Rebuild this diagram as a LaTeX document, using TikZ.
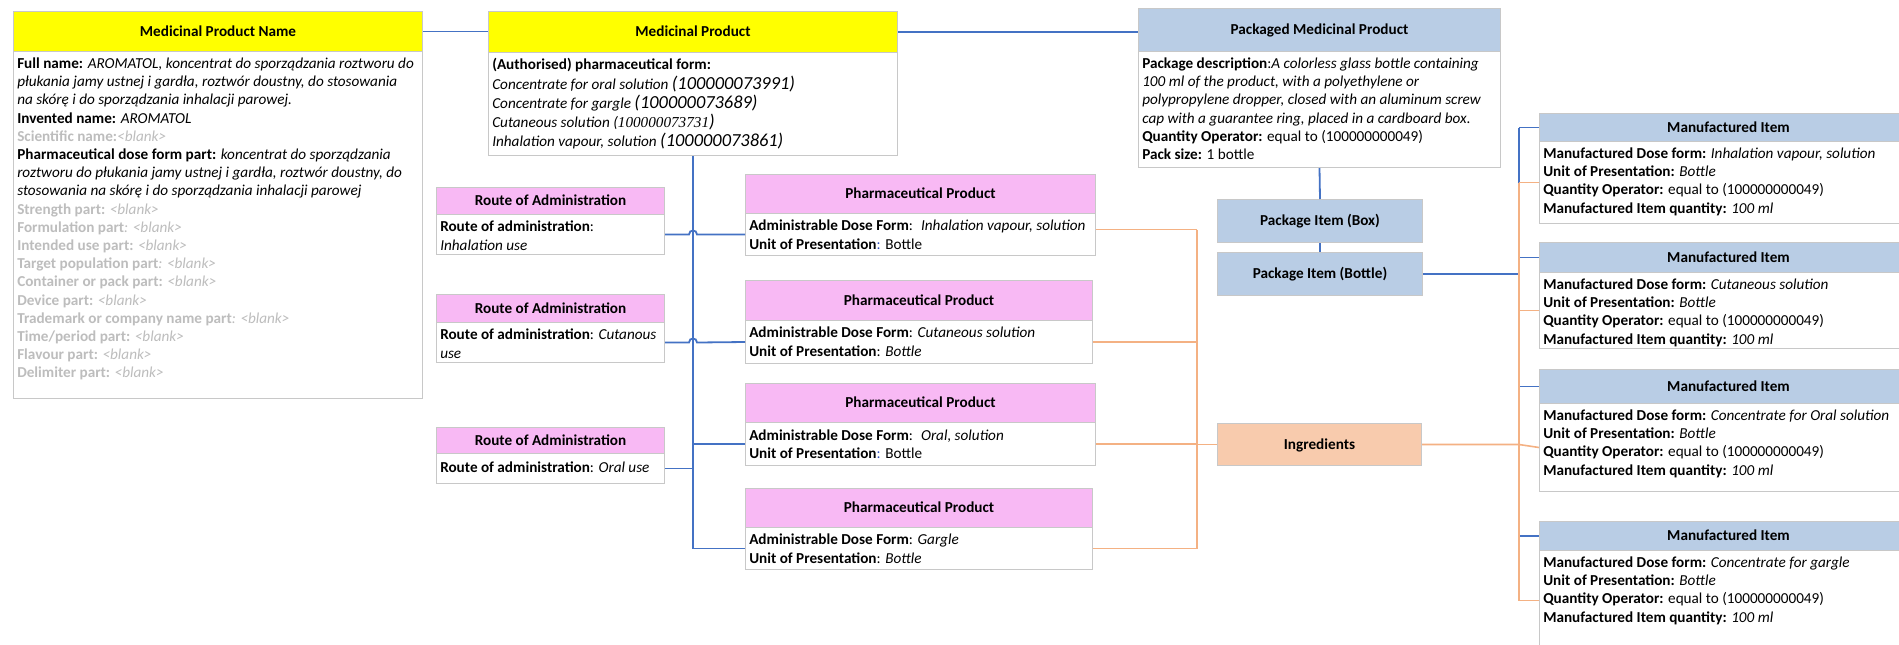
\documentclass[tikz,border=0pt]{standalone}
\usepackage{fontspec}
\setmainfont{Carlito}
\newfontfamily\serifnum{Liberation Serif}
\definecolor{hyellow}{HTML}{FFFF00}
\definecolor{hpink}{HTML}{F8B9F4}
\definecolor{hblue}{HTML}{B9CDE5}
\definecolor{horange}{HTML}{F8CBAD}
\definecolor{bordergray}{HTML}{C8C8C8}
\definecolor{graytext}{HTML}{BDBDBD}
\definecolor{lineblue}{HTML}{4472C4}
\definecolor{lineorange}{HTML}{F4B183}
\definecolor{colonblue}{HTML}{3050C0}
\tikzset{
  hdr/.style={draw=bordergray, line width=0.75pt, anchor=north west, inner sep=0pt,
    font=\fontsize{11.4}{13.65}\selectfont\bfseries, text height=7.3pt, text depth=0pt, align=center},
  yhdr/.style={hdr, fill=hyellow},
  phdr/.style={hdr, fill=hpink},
  bhdr/.style={hdr, fill=hblue},
  ohdr/.style={hdr, fill=horange},
  bodyrect/.style={draw=bordergray, line width=0.75pt, fill=white, anchor=north west, inner sep=0pt},
  bodytext/.style={anchor=north west, inner sep=0pt, align=left, font=\fontsize{11.4}{13.65}\selectfont},
  blueline/.style={draw=lineblue, line width=1.35pt},
  orangeline/.style={draw=lineorange, line width=1.2pt},
}
\newcommand\gr[1]{{\color{graytext}#1}}
\begin{document}
\begin{tikzpicture}[x=0.75pt,y=-0.75pt]
\useasboundingbox (0,0) rectangle (1899,644);

% ---------- Medicinal Product Name ----------
\node[yhdr, minimum width=306.75pt, minimum height=30pt] (mpnh) at (13,11) {Medicinal Product Name};
\node[bodyrect, minimum width=306.75pt, minimum height=260.25pt] (mpnb) at (13,51) {};
\node[bodytext] (mpnt) at ([xshift=3pt,yshift=-3.3pt]mpnb.north west) {\strut\textbf{Full name:} \textit{AROMATOL, koncentrat do sporządzania roztworu do}\\
\textit{płukania jamy ustnej i gardła, roztwór doustny, do stosowania}\\
\textit{na skórę i do sporządzania inhalacji parowej.}\\
\textbf{Invented name:} \textit{AROMATOL}\\
\gr{\textbf{Scientific name:}\textit{<blank>}}\\
\textbf{Pharmaceutical dose form part:} \textit{koncentrat do sporządzania}\\
\textit{roztworu do płukania jamy ustnej i gardła, roztwór doustny, do}\\
\textit{stosowania na skórę i do sporządzania inhalacji parowej}\\
\gr{\textbf{Strength part:} \textit{<blank>}}\\
\gr{\textbf{Formulation part}\textit{: <blank>}}\\
\gr{\textbf{Intended use part:} \textit{<blank>}}\\
\gr{\textbf{Target population part}\textit{: <blank>}}\\
\gr{\textbf{Container or pack part:} \textit{<blank>}}\\
\gr{\textbf{Device part:} \textit{<blank>}}\\
\gr{\textbf{Trademark or company name part}\textit{: <blank>}}\\
\gr{\textbf{Time/period part:} \textit{<blank>}}\\
\gr{\textbf{Flavour part:} \textit{<blank>}}\\
\gr{\textbf{Delimiter part:} \textit{<blank>}}};

% ---------- Medicinal Product ----------
\node[yhdr, minimum width=306.75pt, minimum height=30.75pt] (mph) at (488,11) {Medicinal Product};
\node[bodyrect, minimum width=306.75pt, minimum height=77.25pt] (mpb) at (488,52) {};
\node[bodytext, font=\fontsize{11.4}{14.25}\selectfont] (mpt) at ([xshift=3pt,yshift=-2.8pt]mpb.north west) {\strut\textbf{(Authorised) pharmaceutical form:}\\
\textit{Concentrate for oral solution {\fontsize{13.8}{14.25}\selectfont(100000073991)}}\\
\textit{Concentrate for gargle {\fontsize{13.8}{14.25}\selectfont(100000073689)}}\\
\textit{Cutaneous solution ({\serifnum 100000073731}{\fontsize{13.8}{14.25}\selectfont)}}\\
\textit{Inhalation vapour, solution {\fontsize{13.8}{14.25}\selectfont(100000073861)}}};

% ---------- Packaged Medicinal Product ----------
\node[bhdr, minimum width=271.5pt, minimum height=32.25pt] (pmph) at (1138,8) {Packaged Medicinal Product};
\node[bodyrect, minimum width=271.5pt, minimum height=87pt] (pmpb) at (1138,51) {};
\node[bodytext] (pmpt) at ([xshift=3pt,yshift=-3.3pt]pmpb.north west) {\strut\textbf{Package description}:\textit{A colorless glass bottle containing}\\
\textit{100 ml of the product, with a polyethylene or}\\
\textit{polypropylene dropper, closed with an aluminum screw}\\
\textit{cap with a guarantee ring, placed in a cardboard box.}\\
\textbf{Quantity Operator:} equal to (100000000049)\\
\textbf{Pack size:} 1 bottle};

% ---------- Package items / Ingredients ----------
\node[bhdr, minimum width=153.75pt, minimum height=32.25pt] (pibox) at (1217,199) {Package Item (Box)};
\node[bhdr, minimum width=153.75pt, minimum height=32.25pt] (pibot) at (1217,252) {Package Item (Bottle)};
\node[ohdr, minimum width=153pt, minimum height=31.5pt] (ing) at (1217,423) {Ingredients};

% ---------- Routes of Administration ----------
\node[phdr, minimum width=171pt, minimum height=20.25pt] (r1h) at (436,187) {Route of Administration};
\node[bodyrect, minimum width=171pt, minimum height=30pt] (r1b) at (436,214) {};
\node[bodytext] (r1t) at ([xshift=3pt,yshift=-3.6pt]r1b.north west) {\strut\textbf{Route of administration}:\\ \textit{Inhalation use}};

\node[phdr, minimum width=171pt, minimum height=21pt] (r2h) at (436,294) {Route of Administration};
\node[bodyrect, minimum width=171pt, minimum height=30pt] (r2b) at (436,322) {};
\node[bodytext] (r2t) at ([xshift=3pt,yshift=-3.6pt]r2b.north west) {\strut\textbf{Route of administration}: \textit{Cutanous}\\ \textit{use}};

\node[phdr, minimum width=171pt, minimum height=19.5pt] (r3h) at (436,427) {Route of Administration};
\node[bodyrect, minimum width=171pt, minimum height=22.5pt] (r3b) at (436,453) {};
\node[bodytext] (r3t) at ([xshift=3pt,yshift=-4.5pt]r3b.north west) {\strut\textbf{Route of administration}: \textit{Oral use}};

% ---------- Pharmaceutical Products ----------
\node[phdr, minimum width=262.5pt, minimum height=29.25pt] (p1h) at (745,174) {Pharmaceutical Product};
\node[bodyrect, minimum width=262.5pt, minimum height=31.5pt] (p1b) at (745,213) {};
\node[bodytext] (p1t) at ([xshift=3pt,yshift=-3.6pt]p1b.north west) {\strut\textbf{Administrable Dose Form}:~ \textit{Inhalation vapour, solution}\\ \textbf{Unit of Presentation}{\color{colonblue}:} Bottle};

\node[phdr, minimum width=260.25pt, minimum height=30pt] (p2h) at (745,280) {Pharmaceutical Product};
\node[bodyrect, minimum width=260.25pt, minimum height=32.25pt] (p2b) at (745,320) {};
\node[bodytext] (p2t) at ([xshift=3pt,yshift=-3.6pt]p2b.north west) {\strut\textbf{Administrable Dose Form}: \textit{Cutaneous solution}\\ \textbf{Unit of Presentation}: \textit{Bottle}};

\node[phdr, minimum width=262.5pt, minimum height=29.25pt] (p3h) at (745,383) {Pharmaceutical Product};
\node[bodyrect, minimum width=262.5pt, minimum height=32.25pt] (p3b) at (745,422) {};
\node[bodytext] (p3t) at ([xshift=3pt,yshift=-4pt]p3b.north west) {\strut\textbf{Administrable Dose Form}:~ \textit{Oral, solution}\\ \textbf{Unit of Presentation}{\color{colonblue}:} Bottle};

\node[phdr, minimum width=260.25pt, minimum height=29.25pt] (p4h) at (745,488) {Pharmaceutical Product};
\node[bodyrect, minimum width=260.25pt, minimum height=31.5pt] (p4b) at (745,527) {};
\node[bodytext] (p4t) at ([xshift=3pt,yshift=-3.6pt]p4b.north west) {\strut\textbf{Administrable Dose Form}: \textit{Gargle}\\ \textbf{Unit of Presentation}: \textit{Bottle}};

% ---------- Manufactured Items ----------
\node[bhdr, minimum width=283.5pt, minimum height=21pt] (m1h) at (1539,113) {Manufactured Item};
\node[bodyrect, minimum width=283.5pt, minimum height=61.5pt] (m1b) at (1539,141) {};
\node[bodytext] (m1t) at ([xshift=3pt,yshift=-3.3pt]m1b.north west) {\strut\textbf{Manufactured Dose form:} \textit{Inhalation vapour, solution}\\ \textbf{Unit of Presentation:} \textit{Bottle}\\ \textbf{Quantity Operator:} equal to (100000000049)\\ \textbf{Manufactured Item quantity:} \textit{100 ml}};

\node[bhdr, minimum width=283.5pt, minimum height=22.5pt] (m2h) at (1539,242) {Manufactured Item};
\node[bodyrect, minimum width=283.5pt, minimum height=57pt] (m2b) at (1539,272) {};
\node[bodytext] (m2t) at ([xshift=3pt,yshift=-3.3pt]m2b.north west) {\strut\textbf{Manufactured Dose form:} \textit{Cutaneous solution}\\ \textbf{Unit of Presentation:} \textit{Bottle}\\ \textbf{Quantity Operator:} equal to (100000000049)\\ \textbf{Manufactured Item quantity:} \textit{100 ml}};

\node[bhdr, minimum width=283.5pt, minimum height=25.5pt] (m3h) at (1539,369) {Manufactured Item};
\node[bodyrect, minimum width=283.5pt, minimum height=66pt] (m3b) at (1539,403) {};
\node[bodytext] (m3t) at ([xshift=3pt,yshift=-3.3pt]m3b.north west) {\strut\textbf{Manufactured Dose form:} \textit{Concentrate for Oral solution}\\ \textbf{Unit of Presentation:} \textit{Bottle}\\ \textbf{Quantity Operator:} equal to (100000000049)\\ \textbf{Manufactured Item quantity:} \textit{100 ml}};

\node[bhdr, minimum width=283.5pt, minimum height=21.75pt] (m4h) at (1539,521) {Manufactured Item};
\node[bodyrect, minimum width=283.5pt, minimum height=75pt] (m4b) at (1539,550) {};
\node[bodytext] (m4t) at ([xshift=3pt,yshift=-3.3pt]m4b.north west) {\strut\textbf{Manufactured Dose form:} \textit{Concentrate for gargle}\\ \textbf{Unit of Presentation:} \textit{Bottle}\\ \textbf{Quantity Operator:} equal to (100000000049)\\ \textbf{Manufactured Item quantity:} \textit{100 ml}};

% ---------- Connectors ----------
\coordinate (bv) at (1519,0);
\coordinate (ov) at (1197,0);
\coordinate (p1o) at ([yshift=3.75pt]p1b.east);

% top row
\draw[blueline] (mpnh.east) -- (mpnh.east -| mph.west);
\draw[blueline] (mph.east) -- (mph.east -| pmph.west);
\draw[blueline] (pmpb.south) -- (pibox.north);
\draw[blueline] (pibox.south) -- (pibot.north);

% Medicinal Product trunk
\draw[blueline] (mpb.south) -- (mpb.south |- p4b.west);
\draw[blueline] (mpb.south |- p3b.west) -- (p3b.west);
\draw[blueline] (mpb.south |- p4b.west) -- (p4b.west);
\draw[blueline] (r3b.east) -- (r3b.east -| mpb.south);
\coordinate (hopa) at (r1b.east -| mpb.south);
\draw[blueline] (r1b.east) -- ([xshift=-3pt]hopa) .. controls ([xshift=-3pt,yshift=4pt]hopa) and ([xshift=3pt,yshift=4pt]hopa) .. ([xshift=3pt]hopa) -- (p1b.west);
\coordinate (hopb) at (r2b.east -| mpb.south);
\draw[blueline] (r2b.east) -- ([xshift=-3pt]hopb) .. controls ([xshift=-3pt,yshift=4pt]hopb) and ([xshift=3pt,yshift=4pt]hopb) .. ([xshift=3pt]hopb) -- (p2b.west);

% orange: pharmaceutical products to ingredients
\draw[orangeline] (ov |- p1o) -- (ov |- p4b.east);
\draw[orangeline] (p1o) -- (ov |- p1o);
\draw[orangeline] (p2b.east) -- (ov |- p2b.east);
\draw[orangeline] (p3b.east) -- (ov |- p3b.east);
\draw[orangeline] (p4b.east) -- (ov |- p4b.east);
\draw[orangeline] (ov |- ing.west) -- (ing.west);

% blue: package item (bottle) to manufactured items
\draw[blueline, line width=1.6pt] (pibot.east) -- (pibot.east -| bv);
\draw[blueline] (bv |- m1h.west) -- (bv |- m4h.west);
\draw[blueline] (bv |- m1h.west) -- (m1h.west);
\draw[blueline] (bv |- m2h.west) -- (m2h.west);
\draw[blueline] (bv |- m3h.west) -- (m3h.west);
\draw[blueline] (bv |- m4h.west) -- (m4h.west);

% orange: ingredients to manufactured items
\draw[orangeline] (bv |- m1b.west) -- (bv |- m4b.west);
\draw[orangeline] (bv |- m1b.west) -- (m1b.west);
\draw[orangeline] (bv |- m2b.west) -- (m2b.west);
\draw[orangeline] (ing.east) -- (ing.east -| bv) -- (m3b.west);
\draw[orangeline] (bv |- m4b.west) -- (m4b.west);
\end{tikzpicture}
\end{document}
